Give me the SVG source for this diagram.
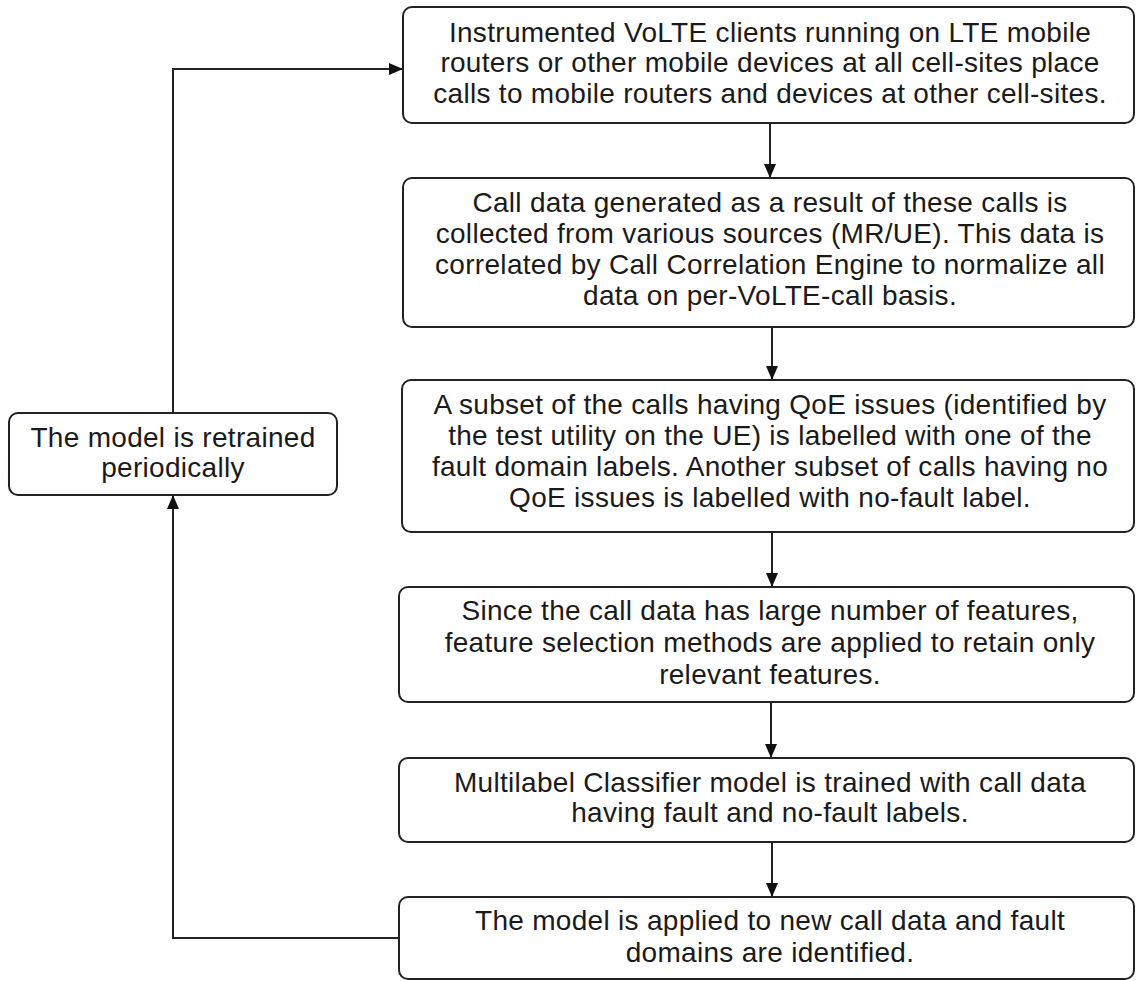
<svg xmlns="http://www.w3.org/2000/svg" width="1136" height="981" viewBox="0 0 1136 981">
<style>
.box{fill:#fff;stroke:#222;stroke-width:2}
.t{font-family:"Liberation Sans",Arial,sans-serif;font-size:28px;letter-spacing:0.3px;fill:#1a1a1a;text-anchor:middle}
.c{fill:none;stroke:#222;stroke-width:2}
</style>
<defs>
<marker id="ah" viewBox="0 0 14 12" refX="13" refY="6" markerWidth="14" markerHeight="12" markerUnits="userSpaceOnUse" orient="auto">
<path d="M0,0 L14,6 L0,12 z" fill="#111"/>
</marker>
</defs>
<rect width="1136" height="981" fill="#fff"/>
<g id="connectors">
<path class="c" d="M770,123 V177" marker-end="url(#ah)"/>
<path class="c" d="M772,327 V379" marker-end="url(#ah)"/>
<path class="c" d="M772,532 V586" marker-end="url(#ah)"/>
<path class="c" d="M771,702 V757" marker-end="url(#ah)"/>
<path class="c" d="M772,842 V896" marker-end="url(#ah)"/>
<path class="c" d="M399,938 H173 V496" marker-end="url(#ah)"/>
<path class="c" d="M173,413 V69 H402" marker-end="url(#ah)"/>
</g>
<g id="n1">
<rect class="box" x="403" y="7" width="731" height="116" rx="9"/>
<text class="t"><tspan x="770" y="42">Instrumented VoLTE clients running on LTE mobile</tspan><tspan x="770" y="72">routers or other mobile devices at all cell-sites place</tspan><tspan x="770" y="103">calls to mobile routers and devices at other cell-sites.</tspan></text>
</g>
<g id="n2">
<rect class="box" x="403" y="178" width="731" height="149" rx="9"/>
<text class="t"><tspan x="770" y="212">Call data generated as a result of these calls is</tspan><tspan x="770" y="243">collected from various sources (MR/UE). This data is</tspan><tspan x="770" y="274">correlated by Call Correlation Engine to normalize all</tspan><tspan x="770" y="305">data on per-VoLTE-call basis.</tspan></text>
</g>
<g id="n3">
<rect class="box" x="402" y="380" width="732" height="152" rx="9"/>
<text class="t"><tspan x="770" y="414">A subset of the calls having QoE issues (identified by</tspan><tspan x="770" y="445">the test utility on the UE) is labelled with one of the</tspan><tspan x="770" y="476">fault domain labels. Another subset of calls having no</tspan><tspan x="770" y="507">QoE issues is labelled with no-fault label.</tspan></text>
</g>
<g id="n4">
<rect class="box" x="399" y="587" width="735" height="115" rx="9"/>
<text class="t"><tspan x="770" y="620">Since the call data has large number of features,</tspan><tspan x="770" y="652">feature selection methods are applied to retain only</tspan><tspan x="770" y="684">relevant features.</tspan></text>
</g>
<g id="n5">
<rect class="box" x="399" y="758" width="735" height="84" rx="9"/>
<text class="t"><tspan x="770" y="792">Multilabel Classifier model is trained with call data</tspan><tspan x="770" y="822">having fault and no-fault labels.</tspan></text>
</g>
<g id="n6">
<rect class="box" x="399" y="897" width="735" height="82" rx="9"/>
<text class="t"><tspan x="770" y="930">The model is applied to new call data and fault</tspan><tspan x="770" y="962">domains are identified.</tspan></text>
</g>
<g id="n7">
<rect class="box" x="9" y="413" width="328" height="82" rx="9"/>
<text class="t"><tspan x="173" y="447">The model is retrained</tspan><tspan x="173" y="477">periodically</tspan></text>
</g>
</svg>
